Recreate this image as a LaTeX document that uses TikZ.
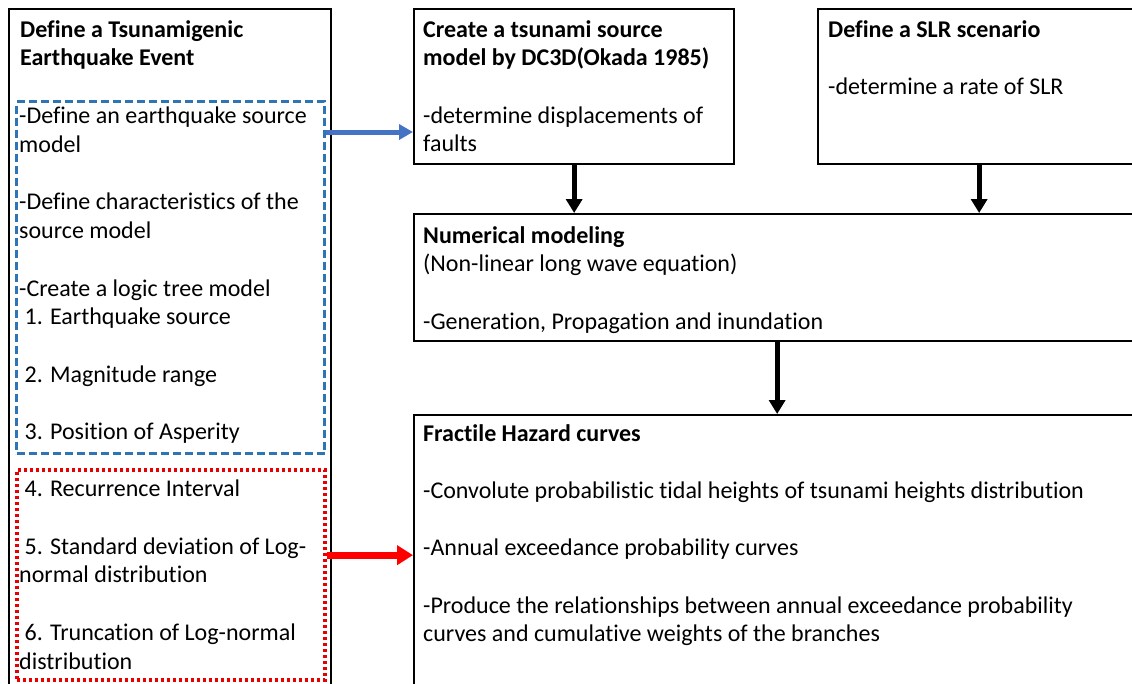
\documentclass[tikz,border=0pt]{standalone}
\usepackage{fontspec}
\setmainfont{Carlito}[Ligatures=NoCommon]
\usetikzlibrary{arrows.meta}
\definecolor{dashblue}{RGB}{46,117,182}
\definecolor{arrowblue}{RGB}{68,114,196}
\definecolor{dotred}{RGB}{232,0,0}
\begin{document}
\begin{tikzpicture}[x=1pt, y=-1pt,
  box/.style={draw, line width=2.3pt, anchor=north west, inner sep=0pt},
  bluebox/.style={draw=dashblue, line width=3pt, dash pattern=on 8pt off 4pt, anchor=north west, inner sep=0pt},
  redbox/.style={draw=dotred, line width=3.5pt, dash pattern=on 3pt off 3pt, anchor=north west, inner sep=0pt},
  txt/.style={anchor=north west, align=left, inner sep=0pt, font=\fontsize{24}{28.7}\selectfont},
  down/.style={line width=5pt, -{Triangle[width=16pt, length=14pt]}}]
\useasboundingbox (0,0) rectangle (1132,683);
\node[box, minimum width=322, minimum height=690] (evt) at (8,8) {};
\node[bluebox, minimum width=308, minimum height=352] (blue) at (15,100) {};
\node[redbox, minimum width=308, minimum height=210] (red) at (15,468) {};
\node[box, minimum width=320, minimum height=155] (src) at (413,8) {};
\node[box, minimum width=322, minimum height=155] (slr) at (817,8) {};
\node[box, minimum width=726, minimum height=127] (num) at (413,213) {};
\node[box, minimum width=726, minimum height=280] (frac) at (413,414) {};
\node[txt] (evttxt) at (20,20) {\textbf{Define a Tsunamigenic}\\\textbf{Earthquake Event}};
\node[txt] (bluetxt) at (19,107) {-Define an earthquake source\\model\\[28.7pt]
-Define characteristics of the\\source model\\[28.7pt]
-Create a logic tree model\\\ 1. Earthquake source\\[28.7pt]
\ 2. Magnitude range\\[28.7pt]
\ 3. Position of Asperity};
\node[txt] (redtxt) at (19,480) {\ 4. Recurrence Interval\\[28.7pt]
\ 5. Standard deviation of Log-\\normal distribution\\[28.7pt]
\ 6. Truncation of Log-normal\\distribution};
\node[txt] (srctxt) at (423,20) {\textbf{Create a tsunami source}\\\textbf{model by DC3D(Okada 1985)}\\[28.7pt]
-determine displacements of\\faults};
\node[txt] (slrtxt) at (828,20) {\textbf{Define a SLR scenario}\\[28.7pt]
-determine a rate of SLR};
\node[txt] (numtxt) at (423,226) {\textbf{Numerical modeling}\\(Non-linear long wave equation)\\[28.7pt]
-Generation, Propagation and inundation};
\node[txt] (fractxt) at (423,424) {\textbf{Fractile Hazard curves}\\[28.7pt]
-Convolute probabilistic tidal heights of tsunami heights distribution\\[28.7pt]
-Annual exceedance probability curves\\[28.7pt]
-Produce the relationships between annual exceedance probability\\curves and cumulative weights of the branches};
\coordinate (bluestart) at ([yshift=-32pt]blue.north east);
\draw[line width=5pt, arrowblue, -{Triangle[width=15pt, length=14pt]}] (bluestart) -- (src.west |- bluestart);
\draw[line width=7pt, red, -{Triangle[width=19pt, length=16pt]}] (red.east |- frac.west) -- (frac.west);
\draw[down] (src.south) -- (src.south |- num.north);
\draw[down] (slr.south) -- (slr.south |- num.north);
\draw[down] (num.south) -- (frac.north);
\end{tikzpicture}
\end{document}
